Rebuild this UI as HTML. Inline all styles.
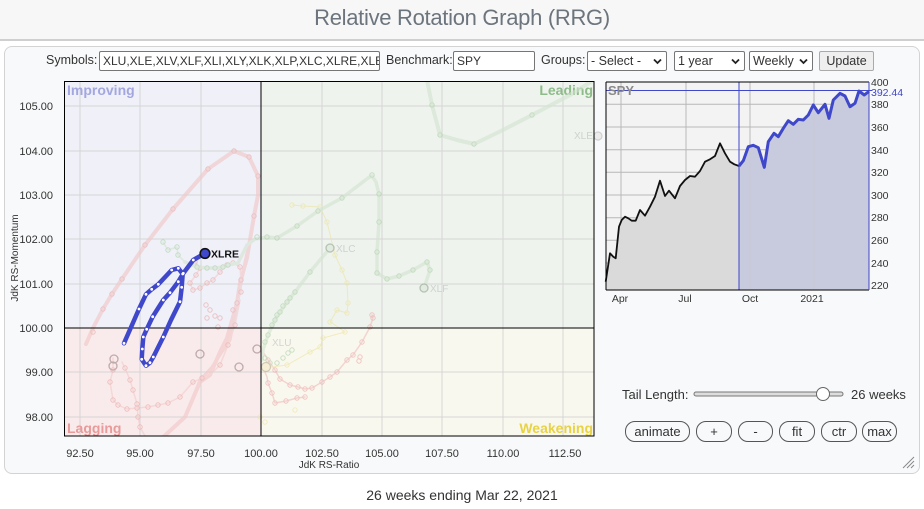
<!DOCTYPE html>
<html><head><meta charset="utf-8">
<style>
*{box-sizing:border-box;margin:0;padding:0}
html,body{width:924px;height:509px;background:#fff;overflow:hidden;font-family:"Liberation Sans",Arial,sans-serif;color:#333}
.hdr{position:absolute;left:0;top:0;width:924px;height:41px;background:#f7f7f7;border-bottom:2px solid #cfcfcf}
.title{position:absolute;left:0;top:5px;width:924px;text-align:center;font-size:22px;color:#6c757d;letter-spacing:-0.3px}
.panel{position:absolute;left:4px;top:46px;width:916px;height:428px;border:1px solid #d3d3d3;border-radius:8px;background:#f8f9fa}
.lbl{position:absolute;font-size:12.5px;color:#333;top:53px}
.inp{position:absolute;top:51px;height:20px;border:1px solid #767676;border-radius:2px;background:#fff;font-size:12px;line-height:18px;padding-left:3px;white-space:nowrap;overflow:hidden}
.sel{position:absolute;top:51px;height:20px;border:1px solid #767676;border-radius:2px;background:#fff;font-size:12.5px;line-height:18px;padding-left:3px}
.sel svg{position:absolute;right:4px;top:6px;left:auto}
.upd{position:absolute;left:819px;top:51px;width:55px;height:20px;border:1px solid #aaa;border-radius:2px;background:#efefef;font-size:12.5px;line-height:18px;text-align:center}
.btn{position:absolute;top:421px;height:21px;border:1px solid #555;border-radius:10px;background:#f8f9fa;font-size:13px;line-height:19px;text-align:center;color:#333}
svg.main{position:absolute;left:0;top:0}
.foot{position:absolute;left:0;top:487px;width:924px;text-align:center;font-size:14px;color:#333}
</style></head><body>
<div class="hdr"></div>
<div class="title">Relative Rotation Graph (RRG)</div>
<div class="panel"></div>

<div class="lbl" style="left:46px">Symbols:</div>
<div class="inp" style="left:99px;width:281px">XLU,XLE,XLV,XLF,XLI,XLY,XLK,XLP,XLC,XLRE,XLB</div>
<div class="lbl" style="left:386px">Benchmark:</div>
<div class="inp" style="left:453px;width:82px">SPY</div>
<div class="lbl" style="left:541px">Groups:</div>
<div class="sel" style="left:587px;width:80px">- Select -<svg width="9" height="7" viewBox="0 0 9 7"><polyline points="1,1.5 4.5,5 8,1.5" fill="none" stroke="#222" stroke-width="1.8"/></svg></div>
<div class="sel" style="left:674px;width:71px">1 year<svg width="9" height="7" viewBox="0 0 9 7"><polyline points="1,1.5 4.5,5 8,1.5" fill="none" stroke="#222" stroke-width="1.8"/></svg></div>
<div class="sel" style="left:749px;width:64px">Weekly<svg width="9" height="7" viewBox="0 0 9 7"><polyline points="1,1.5 4.5,5 8,1.5" fill="none" stroke="#222" stroke-width="1.8"/></svg></div>
<div class="upd">Update</div>

<svg class="main" width="924" height="509" viewBox="0 0 924 509" xmlns="http://www.w3.org/2000/svg" font-family="Liberation Sans, Arial, sans-serif">
<defs><clipPath id="cp"><rect x="64" y="81" width="530" height="355"/></clipPath></defs>
<rect x="64" y="81" width="197" height="247" fill="#eff0f8"/>
<rect x="261" y="81" width="333" height="247" fill="#eef3ed"/>
<rect x="64" y="328" width="197" height="108" fill="#f9ebeb"/>
<rect x="261" y="328" width="333" height="108" fill="#f9f8ef"/>
<g stroke="#d6d6d6" stroke-width="1">
<line x1="80" y1="81" x2="80" y2="436"/><line x1="140" y1="81" x2="140" y2="436"/><line x1="201" y1="81" x2="201" y2="436"/>
<line x1="322" y1="81" x2="322" y2="436"/><line x1="382" y1="81" x2="382" y2="436"/><line x1="442" y1="81" x2="442" y2="436"/><line x1="503" y1="81" x2="503" y2="436"/><line x1="563" y1="81" x2="563" y2="436"/>
<line x1="64" y1="106" x2="594" y2="106"/><line x1="64" y1="151" x2="594" y2="151"/><line x1="64" y1="195" x2="594" y2="195"/><line x1="64" y1="239" x2="594" y2="239"/><line x1="64" y1="284" x2="594" y2="284"/><line x1="64" y1="372" x2="594" y2="372"/><line x1="64" y1="417" x2="594" y2="417"/>
</g>
<g font-weight="bold" font-size="14">
<text x="67" y="95" fill="#a3a7e0">Improving</text>
<text x="593" y="95" fill="#8dbb89" text-anchor="end">Leading</text>
<text x="67" y="433" fill="#e99a9a">Lagging</text>
<text x="593" y="433" fill="#e8d245" text-anchor="end">Weakening</text>
</g>
<g clip-path="url(#cp)" opacity="0.6">
<g fill="none" stroke-linejoin="round" stroke-linecap="round">
<polyline stroke="#f1c6c6" stroke-width="4" points="86,344 93,328 103,309 112,294 122,279 145,245 173,209 208,169 234,151 249,157 258,176 258,195 254,216 247,258 240,283 237,303 227,338 220,352 210,375 200,382 185,417 172,429 160,440"/>
<polyline stroke="#f1c6c6" stroke-width="3" points="252,230 245,262 238,300 230,340 220,355 212,367 200,380 185,417"/>
<polyline stroke="#f3caca" stroke-width="1.5" points="113,358 113,370 110,382 113,400 118,405 127,409 137,408 148,407 158,405 168,403 180,397 193,382 202,378 210,375 220,365 228,345 235,325 240,300"/>
<polyline stroke="#f3caca" stroke-width="1.5" points="122,362 125,368 130,380 133,390 137,404 138,417 140,427 145,436"/>
<polyline stroke="#f3caca" stroke-width="1.5" points="195,262 200,268 196,275 190,283 193,290 200,288 207,283 213,280 220,272 227,265 233,263 240,267 241,280 241,292 237,303 233,310"/>
<polyline stroke="#f0bcbc" stroke-width="1.5" points="372,315 373,318 370,327 362,342 353,355 347,360 337,372 330,377 322,382 312,388 305,389 298,387 290,385 280,379 275,370 268,360 262,350"/>
<polyline stroke="#f0bcbc" stroke-width="1.5" points="305,397 297,398 286,401 275,403 272,393 268,383 267,377 262,365"/>
</g>
<g fill="none" stroke="#eaa5a5" stroke-width="1">
<circle cx="103" cy="309" r="2.2"/><circle cx="112" cy="294" r="2.2"/><circle cx="122" cy="279" r="2.2"/><circle cx="145" cy="245" r="2.2"/><circle cx="173" cy="209" r="2.2"/><circle cx="208" cy="169" r="2.2"/><circle cx="234" cy="151" r="2.2"/><circle cx="249" cy="157" r="2.2"/><circle cx="258" cy="176" r="2.2"/><circle cx="254" cy="216" r="2.2"/><circle cx="93" cy="332" r="2.2"/>
<circle cx="113" cy="370" r="2.2"/><circle cx="110" cy="382" r="2.2"/><circle cx="113" cy="400" r="2.2"/><circle cx="118" cy="405" r="2.2"/><circle cx="127" cy="409" r="2.2"/><circle cx="137" cy="408" r="2.2"/><circle cx="148" cy="407" r="2.2"/><circle cx="158" cy="405" r="2.2"/><circle cx="168" cy="403" r="2.2"/><circle cx="180" cy="397" r="2.2"/><circle cx="193" cy="382" r="2.2"/><circle cx="202" cy="378" r="2.2"/><circle cx="220" cy="365" r="2.2"/><circle cx="228" cy="345" r="2.2"/><circle cx="235" cy="325" r="2.2"/>
<circle cx="125" cy="368" r="2.2"/><circle cx="130" cy="380" r="2.2"/><circle cx="133" cy="390" r="2.2"/><circle cx="137" cy="404" r="2.2"/><circle cx="138" cy="417" r="2.2"/><circle cx="140" cy="427" r="2.2"/>
<circle cx="195" cy="262" r="2.2"/><circle cx="200" cy="268" r="2.2"/><circle cx="196" cy="275" r="2.2"/><circle cx="190" cy="283" r="2.2"/><circle cx="193" cy="290" r="2.2"/><circle cx="200" cy="288" r="2.2"/><circle cx="207" cy="283" r="2.2"/><circle cx="213" cy="280" r="2.2"/><circle cx="220" cy="272" r="2.2"/><circle cx="227" cy="265" r="2.2"/><circle cx="233" cy="263" r="2.2"/><circle cx="240" cy="267" r="2.2"/><circle cx="241" cy="280" r="2.2"/><circle cx="241" cy="292" r="2.2"/><circle cx="237" cy="303" r="2.2"/><circle cx="233" cy="310" r="2.2"/><circle cx="206" cy="305" r="2.2"/><circle cx="210" cy="310" r="2.2"/><circle cx="207" cy="318" r="2.2"/><circle cx="215" cy="316" r="2.2"/><circle cx="220" cy="318" r="2.2"/><circle cx="218" cy="327" r="2.2"/>
<circle cx="372" cy="315" r="2.2"/><circle cx="373" cy="318" r="2.2"/><circle cx="370" cy="327" r="2.2"/><circle cx="362" cy="342" r="2.2"/><circle cx="353" cy="355" r="2.2"/><circle cx="360" cy="357" r="2.2"/><circle cx="359" cy="361" r="2.2"/><circle cx="347" cy="360" r="2.2"/><circle cx="337" cy="372" r="2.2"/><circle cx="330" cy="377" r="2.2"/><circle cx="322" cy="382" r="2.2"/><circle cx="312" cy="388" r="2.2"/><circle cx="305" cy="389" r="2.2"/><circle cx="298" cy="387" r="2.2"/><circle cx="290" cy="385" r="2.2"/><circle cx="280" cy="379" r="2.2"/><circle cx="275" cy="370" r="2.2"/><circle cx="268" cy="360" r="2.2"/>
<circle cx="305" cy="397" r="2.2"/><circle cx="297" cy="398" r="2.2"/><circle cx="286" cy="401" r="2.2"/><circle cx="275" cy="403" r="2.2"/><circle cx="272" cy="393" r="2.2"/><circle cx="268" cy="383" r="2.2"/>
</g>
<g fill="none" stroke="#ece39e" stroke-width="1">
<polyline points="292,205 303,206 320,207 327,222 335,255 342,270 347,283 348,303 347,313 337,310 330,322 332,323 345,332 323,338 320,347 310,352 287,365 265,368"/>
<circle cx="292" cy="205" r="2.2"/><circle cx="303" cy="206" r="2.2"/><circle cx="320" cy="207" r="2.2"/><circle cx="327" cy="222" r="2.2"/><circle cx="335" cy="255" r="2.2"/><circle cx="342" cy="270" r="2.2"/><circle cx="347" cy="283" r="2.2"/><circle cx="348" cy="303" r="2.2"/><circle cx="347" cy="313" r="2.2"/><circle cx="337" cy="310" r="2.2"/><circle cx="330" cy="322" r="2.2"/><circle cx="345" cy="332" r="2.2"/><circle cx="323" cy="338" r="2.2"/><circle cx="320" cy="347" r="2.2"/><circle cx="310" cy="352" r="2.2"/><circle cx="287" cy="365" r="2.2"/><circle cx="265" cy="422" r="2.2"/><circle cx="260" cy="417" r="2.2"/><circle cx="295" cy="410" r="2.2"/>
</g>
<g fill="none" stroke-linejoin="round" stroke-linecap="round">
<polyline stroke="#d3e4d0" stroke-width="4" points="424,60 428,85 432,105 440,135 457,140 474,144 503,130 532,115 570,95 600,76"/>
<polyline stroke="#d3e4d0" stroke-width="3.5" points="185,262 197,267 207,268 215,268 223,267 228,265 238,263 247,245 255,239 268,237 277,238 297,226 318,211 342,198 368,178 372,176 376,182 379,194 379,222 377,252 377,273 387,279 399,276 413,270 427,262 430,270 424,288"/>
<polyline stroke="#d3e4d0" stroke-width="1.5" points="163,242 168,250 177,247 178,255 185,262"/>
<polyline stroke="#d3e4d0" stroke-width="3.5" points="330,248 320,260 310,272 295,292 287,302 280,312 275,320 268,335 263,350 262,360"/>
</g>
<g fill="none" stroke="#a9cfa4" stroke-width="1">
<circle cx="432" cy="105" r="2.2"/><circle cx="440" cy="135" r="2.2"/><circle cx="474" cy="144" r="2.2"/><circle cx="532" cy="115" r="2.2"/>
<circle cx="163" cy="242" r="2.2"/><circle cx="168" cy="250" r="2.2"/><circle cx="177" cy="247" r="2.2"/><circle cx="178" cy="255" r="2.2"/><circle cx="197" cy="267" r="2.2"/><circle cx="207" cy="268" r="2.2"/><circle cx="215" cy="268" r="2.2"/><circle cx="223" cy="267" r="2.2"/><circle cx="228" cy="265" r="2.2"/><circle cx="257" cy="237" r="2.2"/><circle cx="267" cy="237" r="2.2"/><circle cx="277" cy="238" r="2.2"/><circle cx="297" cy="226" r="2.2"/><circle cx="318" cy="211" r="2.2"/><circle cx="342" cy="198" r="2.2"/><circle cx="372" cy="175" r="2.2"/><circle cx="379" cy="194" r="2.2"/><circle cx="379" cy="222" r="2.2"/><circle cx="377" cy="252" r="2.2"/><circle cx="377" cy="273" r="2.2"/><circle cx="387" cy="279" r="2.2"/><circle cx="399" cy="276" r="2.2"/><circle cx="413" cy="270" r="2.2"/><circle cx="427" cy="262" r="2.2"/><circle cx="430" cy="270" r="2.2"/>
<circle cx="310" cy="272" r="2.2"/><circle cx="295" cy="292" r="2.2"/><circle cx="290" cy="298" r="2.2"/><circle cx="287" cy="302" r="2.2"/><circle cx="283" cy="306" r="2.2"/><circle cx="280" cy="312" r="2.2"/><circle cx="277" cy="315" r="2.2"/><circle cx="275" cy="320" r="2.2"/><circle cx="272" cy="325" r="2.2"/><circle cx="268" cy="335" r="2.2"/><circle cx="265" cy="342" r="2.2"/>
<circle cx="288" cy="353" r="2.2"/><circle cx="283" cy="358" r="2.2"/><circle cx="277" cy="363" r="2.2"/><circle cx="270" cy="363" r="2.2"/><circle cx="265" cy="358" r="2.2"/><circle cx="292" cy="350" r="2.2"/>
</g>
<g fill="none" stroke="#9a8080" stroke-width="1.3">
<circle cx="114" cy="359" r="4"/><circle cx="113" cy="366" r="4"/><circle cx="200" cy="354" r="4"/><circle cx="239" cy="367" r="4"/><circle cx="257" cy="349" r="4"/>
</g>
<circle cx="266" cy="367" r="4.5" fill="#f3eac4" stroke="#b9ab8a" stroke-width="1.2"/>
<circle cx="330" cy="248" r="4" fill="#dbe6d8" stroke="#8fa38c" stroke-width="1.3"/>
<circle cx="424" cy="288" r="4" fill="#dbe6d8" stroke="#8fa38c" stroke-width="1.3"/>
<g font-size="10" fill="#bbbbbb">
<text x="336" y="252">XLC</text><text x="430" y="292">XLF</text><text x="272" y="346">XLU</text><text x="574" y="139">XLE</text>
</g>
</g>
<circle cx="598" cy="136" r="4" fill="#ececec" stroke="#d0d0d0" stroke-width="1.2"/>
<line x1="261" y1="81" x2="261" y2="436" stroke="#000" stroke-width="1"/>
<line x1="64" y1="328" x2="594" y2="328" stroke="#000" stroke-width="1"/>
<rect x="64.5" y="81.5" width="529.5" height="354.5" fill="none" stroke="#000" stroke-width="1"/>
<polyline fill="none" stroke="#3f47cb" stroke-width="4.5" stroke-linejoin="round" stroke-linecap="round" points="124,343.3 139,309 146,294.3 151.7,289.3 158.3,284.3 171.7,270 178.3,268.3 182.7,274 181.7,287.3 180,301.7 171,320 163.3,337 153.3,357 150,362.7 146,365.7 141.7,359.3 142.3,349 143.3,337 146.7,329.3 152.7,316.7 163.3,300 170,292.7 178.3,281.7 183.3,273.3 193.3,260 205,253.3"/>
<g fill="#fff">
<circle cx="124" cy="343.3" r="1.4"/><circle cx="139" cy="309" r="1.4"/><circle cx="146" cy="294.3" r="1.4"/><circle cx="151.7" cy="289.3" r="1.4"/><circle cx="158.3" cy="284.3" r="1.4"/><circle cx="171.7" cy="270" r="1.4"/><circle cx="178.3" cy="268.3" r="1.4"/><circle cx="182.7" cy="274" r="1.4"/><circle cx="181.7" cy="287.3" r="1.4"/><circle cx="180" cy="301.7" r="1.4"/><circle cx="163.3" cy="337" r="1.4"/><circle cx="153.3" cy="357" r="1.4"/><circle cx="150" cy="362.7" r="1.4"/><circle cx="146" cy="365.7" r="1.4"/><circle cx="141.7" cy="359.3" r="1.4"/><circle cx="142.3" cy="349" r="1.4"/><circle cx="143.3" cy="337" r="1.4"/><circle cx="146.7" cy="329.3" r="1.4"/><circle cx="152.7" cy="316.7" r="1.4"/><circle cx="163.3" cy="300" r="1.4"/><circle cx="170" cy="292.7" r="1.4"/><circle cx="178.3" cy="281.7" r="1.4"/><circle cx="183.3" cy="273.3" r="1.4"/><circle cx="193.3" cy="260" r="1.4"/>
</g>
<circle cx="205" cy="253.5" r="4.8" fill="#3f47cb" stroke="#111" stroke-width="1.6"/>
<text x="211" y="257.5" font-size="10.5" font-weight="bold" fill="#111">XLRE</text>
<g font-size="11" fill="#333" text-anchor="end">
<text x="53" y="110">105.00</text><text x="53" y="155">104.00</text><text x="53" y="199">103.00</text><text x="53" y="243">102.00</text><text x="53" y="288">101.00</text><text x="53" y="332">100.00</text><text x="53" y="376">99.00</text><text x="53" y="421">98.00</text>
</g>
<g font-size="11" fill="#333" text-anchor="middle">
<text x="80" y="457">92.50</text><text x="140" y="457">95.00</text><text x="201" y="457">97.50</text><text x="261" y="457">100.00</text><text x="322" y="457">102.50</text><text x="382" y="457">105.00</text><text x="442" y="457">107.50</text><text x="503" y="457">110.00</text><text x="565" y="457">112.50</text>
</g>
<text x="329" y="468" font-size="10" fill="#333" text-anchor="middle">JdK RS-Ratio</text>
<text transform="translate(18,258) rotate(-90)" font-size="10" fill="#333" text-anchor="middle">JdK RS-Momentum</text>

<rect x="606" y="82" width="263" height="208" fill="#f3f3f3"/>
<g stroke="#b8b8b8" stroke-width="1">
<line x1="621" y1="82" x2="621" y2="290"/><line x1="686" y1="82" x2="686" y2="290"/><line x1="750" y1="82" x2="750" y2="290"/><line x1="814" y1="82" x2="814" y2="290"/>
<line x1="606" y1="104.3" x2="869" y2="104.3"/><line x1="606" y1="127" x2="869" y2="127"/><line x1="606" y1="149.7" x2="869" y2="149.7"/><line x1="606" y1="172.3" x2="869" y2="172.3"/><line x1="606" y1="195" x2="869" y2="195"/><line x1="606" y1="217.7" x2="869" y2="217.7"/><line x1="606" y1="240.3" x2="869" y2="240.3"/><line x1="606" y1="263" x2="869" y2="263"/>
</g>
<polygon fill="#dadada" points="605.7,290 605.7,281.7 610,253.3 613.3,256.7 615.7,258.3 619,226.7 621.7,220 625,216.7 628.3,218.3 631.7,220.7 635.7,220.7 640,210 645,215.7 650,206.7 655,196.7 660,180.7 665,196 669,190.7 675,198.3 680,186 685,180 690,176 695,176.7 700,171 705,161.7 710,159.3 715,156 720,143.3 725,153.3 730,161.7 734.3,164.3 739,166 739,290"/>
<polygon fill="#c8cadd" points="739,290 739,166 743.3,160.7 748.3,146.7 753.3,145.3 758.3,147.7 764.3,167.3 768.3,141.7 774,133.3 778.3,136.7 783.3,128.3 788.3,120.7 793.3,124.3 798.3,119.3 803.3,120 808.3,115 813.3,105 818.3,112.7 825,104.3 829,118.3 833.3,100 840,93.3 845,96 850,106.7 855,103.3 859,91 864.3,95 869,91.3 869,290"/>
<g stroke="#c8c8c8" stroke-width="0.6" opacity="0.6">
<line x1="750" y1="150" x2="750" y2="290"/><line x1="814" y1="115" x2="814" y2="290"/>
</g>
<polyline fill="none" stroke="#111" stroke-width="1.8" stroke-linejoin="round" points="605.7,281.7 610,253.3 613.3,256.7 615.7,258.3 619,226.7 621.7,220 625,216.7 628.3,218.3 631.7,220.7 635.7,220.7 640,210 645,215.7 650,206.7 655,196.7 660,180.7 665,196 669,190.7 675,198.3 680,186 685,180 690,176 695,176.7 700,171 705,161.7 710,159.3 715,156 720,143.3 725,153.3 730,161.7 734.3,164.3 739,166"/>
<line x1="739" y1="82" x2="739" y2="290" stroke="#3f47cb" stroke-width="1"/>
<line x1="606" y1="90.5" x2="872" y2="90.5" stroke="#3f47cb" stroke-width="1"/>
<polyline fill="none" stroke="#3f47cb" stroke-width="3" stroke-linejoin="round" points="739,166 743.3,160.7 748.3,146.7 753.3,145.3 758.3,147.7 764.3,167.3 768.3,141.7 774,133.3 778.3,136.7 783.3,128.3 788.3,120.7 793.3,124.3 798.3,119.3 803.3,120 808.3,115 813.3,105 818.3,112.7 825,104.3 829,118.3 833.3,100 840,93.3 845,96 850,106.7 855,103.3 859,91 864.3,95 869,91.3"/>
<line x1="606" y1="82" x2="606" y2="290" stroke="#000" stroke-width="1"/>
<line x1="606" y1="82" x2="869" y2="82" stroke="#000" stroke-width="1"/>
<line x1="606" y1="290" x2="869" y2="290" stroke="#000" stroke-width="1"/>
<line x1="869" y1="82" x2="869" y2="290" stroke="#3f47cb" stroke-width="1"/>
<text x="608" y="95" font-size="13" font-weight="bold" fill="#8a8a8a">SPY</text>
<g font-size="10.5" fill="#333">
<text x="871" y="86">400</text><text x="871" y="108">380</text><text x="871" y="131">360</text><text x="871" y="154">340</text><text x="871" y="176">320</text><text x="871" y="199">300</text><text x="871" y="221">280</text><text x="871" y="244">260</text><text x="871" y="267">240</text><text x="871" y="289">220</text>
</g>
<text x="871" y="96" font-size="10.5" fill="#3f47cb">392.44</text>
<g font-size="10.5" fill="#333" text-anchor="middle">
<text x="620" y="302">Apr</text><text x="685" y="302">Jul</text><text x="750" y="302">Oct</text><text x="812" y="302">2021</text>
</g>

<text x="622" y="399" font-size="13" fill="#333">Tail Length:</text>
<rect x="694" y="392" width="149" height="4" rx="2" fill="#ddd" stroke="#777" stroke-width="1"/>
<circle cx="823" cy="394" r="6.5" fill="#fff" stroke="#666" stroke-width="1"/>
<text x="851" y="399" font-size="13" fill="#333">26 weeks</text>
<g stroke="#888" stroke-width="1">
<line x1="903" y1="468" x2="914" y2="457"/><line x1="907" y1="468" x2="914" y2="461"/><line x1="911" y1="468" x2="914" y2="465"/>
</g>
</svg>

<div class="btn" style="left:625px;width:65px">animate</div>
<div class="btn" style="left:696px;width:36px">+</div>
<div class="btn" style="left:738px;width:35px">-</div>
<div class="btn" style="left:779px;width:36px">fit</div>
<div class="btn" style="left:821px;width:36px">ctr</div>
<div class="btn" style="left:862px;width:35px">max</div>

<div class="foot">26 weeks ending Mar 22, 2021</div>
</body></html>
